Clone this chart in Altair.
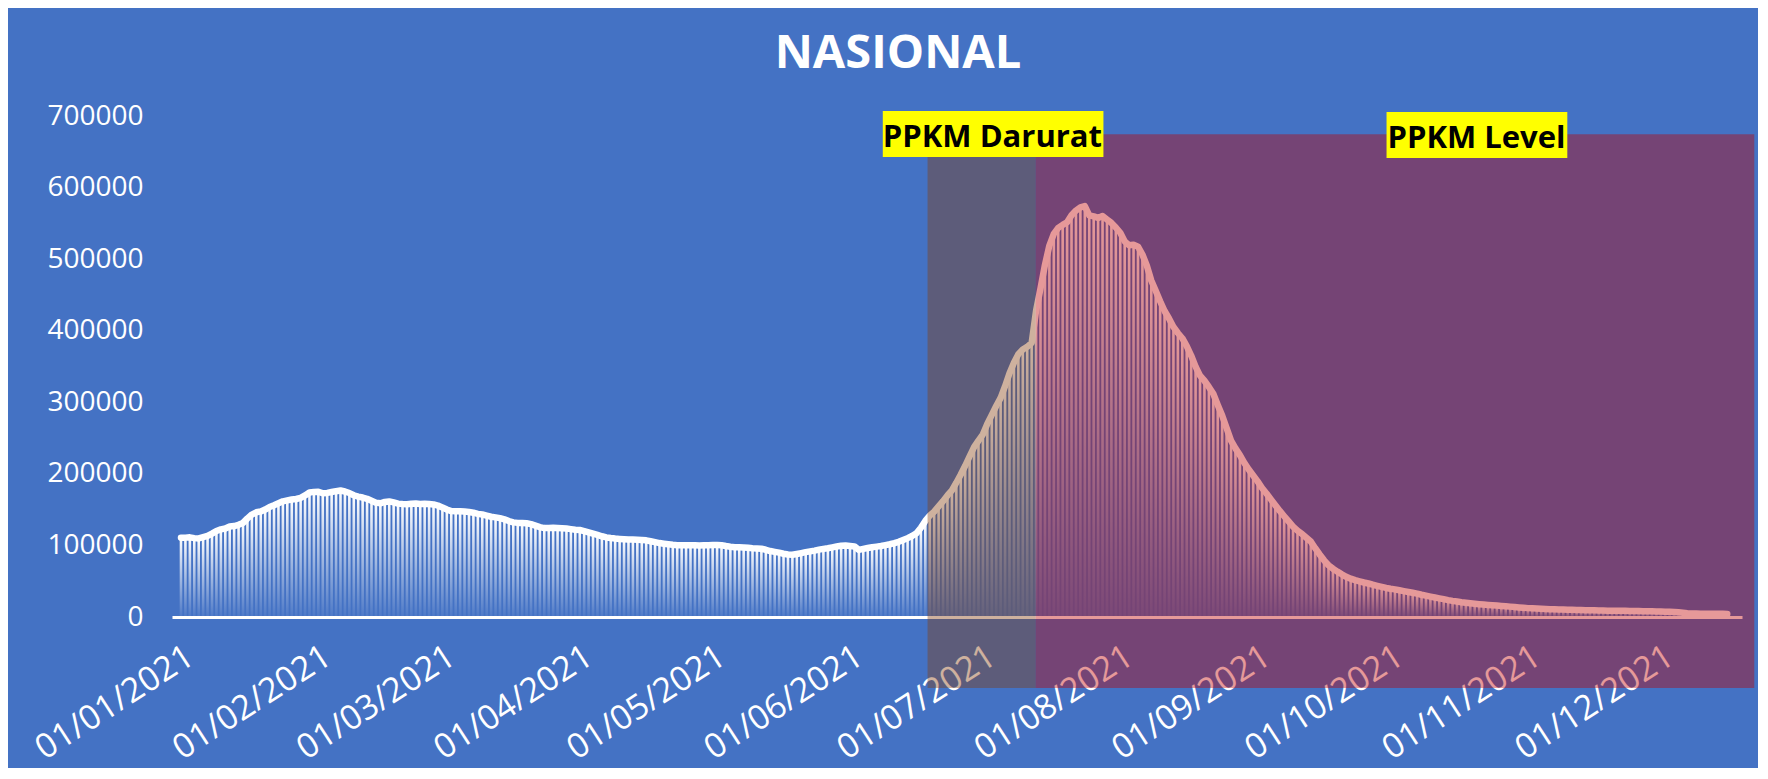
import altair as alt
import pandas as pd

# Daily active cases (thousands), Jan 1 - Dec 16 2021
jan = [110.7, 110.9, 111.3, 110.2, 109.8, 111.5, 113.2, 116.5, 120.2, 122.4, 123.6, 126.4, 127.1, 128.8, 131.5, 137.8,
       143.1, 146.3, 147.5, 150.1, 153.7, 156.2, 158.9, 161.6, 162.9, 164.1, 164.9, 166.5, 169.8, 173.9, 174.8]
feb = [175.1, 172.8, 173.4, 174.6, 175.8, 176.7, 175.4, 173.2, 170.1, 168.2, 166.9, 165.1, 162.4, 159.8, 158.9, 160.7,
       161.5, 160.1, 158.4, 157.9, 157.6, 158.3, 158.5, 157.8, 158.2, 158.0, 157.3, 155.6]
mar = [153.1, 150.2, 148.0, 147.6, 147.9, 147.3, 146.8, 145.7, 144.1, 143.2, 141.6, 140.1, 139.2, 138.1, 136.4, 134.0,
       132.2, 131.5, 131.4, 130.9, 129.7, 127.6, 125.5, 124.2, 124.5, 124.7, 124.4, 124.1, 123.6, 122.8, 121.9]
apr = [121.6, 120.1, 118.3, 116.4, 114.6, 112.8, 111.2, 110.3, 109.6, 109.1, 108.7, 108.4, 108.2, 107.9, 107.6, 107.1,
       105.9, 104.6, 103.3, 102.4, 101.6, 100.9, 100.4, 100.2, 100.1, 100.3, 100.1, 99.8, 100.2, 100.4]
may = [100.6, 100.7, 100.2, 99.1, 98.2, 97.6, 97.3, 97.1, 96.6, 96.0, 95.6, 95.3, 93.9, 92.2, 91.0, 89.9, 88.4, 87.3,
       87.0, 88.1, 89.3, 90.6, 91.7, 92.8, 94.1, 95.2, 96.1, 97.3, 98.5, 99.5, 99.9]
jun = [99.3, 98.6, 93.8, 95.2, 96.4, 97.5, 98.3, 99.2, 100.4, 101.6, 103.1, 105.0, 107.6, 110.2, 113.1, 117.0, 124.6,
       134.2, 141.5, 147.2, 154.6, 161.8, 169.8, 176.9, 187.6, 199.0, 211.3, 224.6, 237.3, 246.5]
jul = [255.2, 270.1, 282.4, 294.8, 306.2, 322.5, 340.6, 355.2, 367.3, 373.8, 377.5, 383.0, 428.0, 459.0, 492.0, 519.0,
       535.2, 543.7, 547.9, 551.5, 561.4, 567.9, 572.3, 574.1, 561.2, 559.8, 557.6, 560.3, 555.4, 550.6, 544.2]
aug = [536.9, 524.8, 519.3, 520.1, 517.4, 506.5, 490.7, 470.2, 455.9, 441.2, 427.5, 417.1, 405.3, 396.8, 389.5, 378.6,
       365.3, 349.8, 337.2, 330.1, 321.4, 311.9, 296.3, 281.6, 263.9, 246.4, 235.6, 226.2, 215.3, 206.1, 197.7]
sep = [189.5, 180.2, 172.6, 164.3, 156.1, 148.2, 140.8, 133.5, 126.3, 120.6, 116.2, 110.7, 105.4, 96.1, 87.4, 79.2,
       72.3, 67.5, 63.4, 59.6, 56.2, 53.6, 51.5, 49.8, 48.2, 46.8, 45.1, 43.6, 42.2, 40.6]
oct_ = [39.5, 38.6, 37.4, 36.2, 35.0, 33.8, 32.7, 31.1, 29.8, 28.5, 27.3, 26.1, 24.9, 23.6, 22.5, 21.6, 20.6, 19.8,
        19.1, 18.5, 17.9, 17.4, 16.9, 16.5, 16.0, 15.5, 15.0, 14.5, 13.9, 13.4, 12.9]
nov = [12.4, 12.1, 11.8, 11.5, 11.2, 11.0, 10.8, 10.6, 10.4, 10.2, 10.1, 9.9, 9.8, 9.6, 9.5, 9.3, 9.2, 9.0, 8.9, 8.8,
       8.7, 8.6, 8.6, 8.5, 8.4, 8.3, 8.2, 8.1, 7.9, 7.8]
dec = [7.6, 7.4, 7.3, 7.1, 6.6, 6.0, 5.4, 5.0, 4.8, 4.7, 4.6, 4.5, 4.5, 4.4, 4.4, 4.3]

# Policy phases (shaded overlays)
phase_names = ["PPKM Darurat", "PPKM Level"]
phase_start = ["2021-06-18T12:00:00", "2021-07-12T21:36:00"]
phase_end = ["2021-07-12T21:36:00", "2021-12-22T02:24:00"]
phase_top = [674600, 674600]
phase_bottom = [-99200, -99200]
phase_fill = ["#843C0C", "#C00000"]

# Yellow labels
label_text = ["PPKM Darurat", "PPKM Level"]
label_x = ["2021-07-03T03:36:00", "2021-10-20T09:36:00"]
label_y = [656700, 654900]
box_x1 = ["2021-06-08T09:36:00", "2021-09-30T02:24:00"]
box_x2 = ["2021-07-28T04:48:00", "2021-11-09T21:36:00"]
box_y1 = [642700, 641300]
box_y2 = [707000, 705600]

y_ticks = [0, 100000, 200000, 300000, 400000, 500000, 600000, 700000]

values_k = jan + feb + mar + apr + may + jun + jul + aug + sep + oct_ + nov + dec
dates = pd.date_range("2021-01-01", periods=len(values_k), freq="D")
df = pd.DataFrame({"date": dates, "active": [v * 1000 for v in values_k]})

phases = pd.DataFrame({"name": phase_names, "start": phase_start, "end": phase_end,
                       "top": phase_top, "bottom": phase_bottom, "fill": phase_fill})
labels = pd.DataFrame({"text": label_text, "x": label_x, "y": label_y,
                       "bx1": box_x1, "bx2": box_x2, "by1": box_y1, "by2": box_y2})

FONT = "Open Sans"

x_scale = alt.Scale(domain=[alt.DateTime(year=2020, month=12, date=31, hours=2, minutes=24),
                            alt.DateTime(year=2021, month=12, date=18, hours=4, minutes=48)], nice=False)
y_scale = alt.Scale(domain=[0, 700000], nice=False)

x_axis = alt.Axis(values=[alt.DateTime(year=2021, month=m, date=1) for m in range(1, 13)],
                  format="%d/%m/%Y", labelAngle=-33, labelFontSize=34, labelFont=FONT, labelColor="white",
                  ticks=False, grid=False, domainColor="white", domainWidth=3, title=None,
                  labelOverlap=False, labelBound=False, labelFlush=False, labelPadding=22, labelLimit=600)
y_axis = alt.Axis(values=y_ticks, format="d", labelFontSize=28, labelFont=FONT, labelColor="white",
                  ticks=False, grid=False, domain=False, title=None, labelPadding=29)

grad = alt.Gradient(gradient="linear",
                    stops=[alt.GradientStop(color="#ffffff", offset=0),
                           alt.GradientStop(color="rgba(255,255,255,0.05)", offset=1)],
                    x1=0, x2=0, y1=0, y2=1)

base = alt.Chart(df)
bars = base.mark_bar(size=2.6, color=grad).encode(
    x=alt.X("date:T", scale=x_scale, axis=x_axis),
    y=alt.Y("active:Q", scale=y_scale, axis=y_axis),
)
line = base.mark_line(color="white", strokeWidth=6.5, strokeCap="round", strokeJoin="round").encode(
    x="date:T", y="active:Q")

rects = alt.Chart(phases).mark_rect(opacity=0.4).encode(
    x="start:T", x2="end:T", y="bottom:Q", y2="top:Q",
    color=alt.Color("fill:N", scale=None))

boxes = alt.Chart(labels).mark_rect(color="#FFFF00").encode(
    x="bx1:T", x2="bx2:T", y="by1:Q", y2="by2:Q")
texts = alt.Chart(labels).mark_text(font=FONT, fontWeight="bold", fontSize=31, color="black",
                                    align="center", baseline="alphabetic").encode(
    x="x:T", y="y:Q", text="text:N")

chart = alt.layer(bars, line, rects, boxes, texts).properties(
    width=1570, height=501,
    title=alt.TitleParams("NASIONAL", color="white", fontSize=47, font=FONT, fontWeight="bold",
                          anchor="middle", dx=-59, offset=24),
    background="#4472C4",
    padding={"left": 164, "top": 108, "right": 16, "bottom": 151},
    autosize=alt.AutoSizeParams(type="none"),
).configure_view(stroke=None)

chart.save("out.html", embed_options={"renderer": "svg", "actions": False})
